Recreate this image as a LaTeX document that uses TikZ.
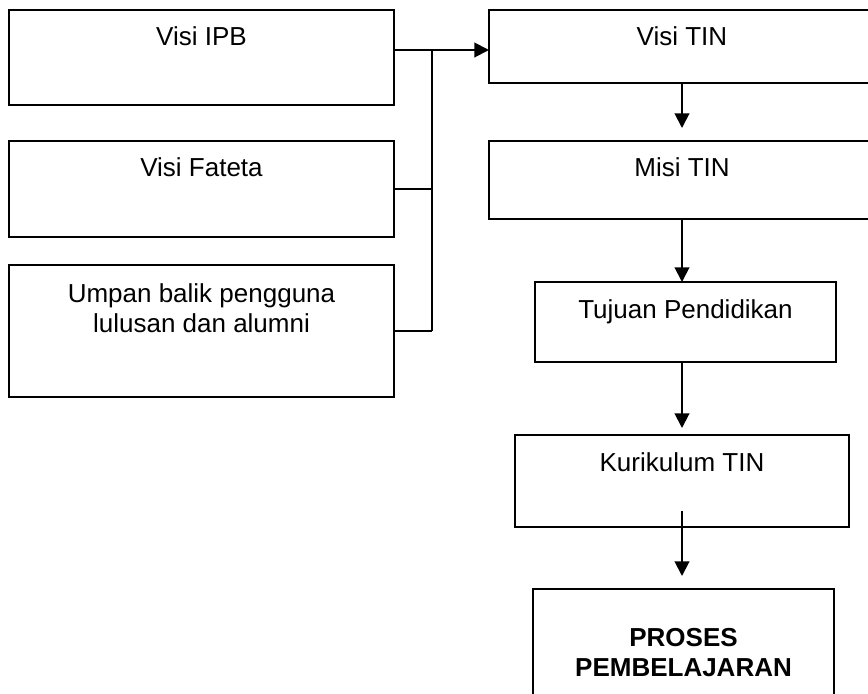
\documentclass[tikz,border=0pt]{standalone}
\usepackage{fontspec}
\setmainfont{Liberation Sans}
\usetikzlibrary{arrows.meta,positioning}
\tikzset{
	block/.style={
		rectangle,
		draw=black,
		line width=1.5pt,
		anchor=north west,
		inner sep=0pt,
		outer sep=0pt
	},
	boxtext/.style={
		inner sep=0pt,
		align=center,
		font=\fontsize{19.5}{22.5}\selectfont
	},
	arrow/.style={
		draw=black,
		line width=1.5pt,
		-{Triangle[width=11pt,length=11pt]}
	},
	link/.style={
		draw=black,
		line width=1.5pt
	},
}
\begin{document}
\begin{tikzpicture}[x=0.75pt,y=-0.75pt]
	\useasboundingbox (0,0) rectangle (868,693);
	% left column
	\node [block, minimum width=288.75pt, minimum height=71.25pt] (ipb) at (9,10) {};
	\node [boxtext, below=12.2pt of ipb.north] (ipbtext) {Visi IPB};
	\node [block, minimum width=288.75pt, minimum height=72pt] (fateta) at (9,141) {};
	\node [boxtext, below=12.2pt of fateta.north] (fatetatext) {Visi Fateta};
	\node [block, minimum width=288.75pt, minimum height=99pt] (umpan) at (9,265) {};
	\node [boxtext, below=13.7pt of umpan.north] (umpantext) {Umpan balik pengguna\\lulusan dan alumni};
	% right column
	\node [block, minimum width=289.5pt, minimum height=54.75pt] (vtin) at (489,10) {};
	\node [boxtext, below=12.2pt of vtin.north] (vtintext) {Visi TIN};
	\node [block, minimum width=289.5pt, minimum height=58.5pt] (mtin) at (489,141) {};
	\node [boxtext, below=12.2pt of mtin.north] (mtintext) {Misi TIN};
	\node [block, minimum width=225.75pt, minimum height=60pt] (tujuan) at (535,282) {};
	\node [boxtext, below=13pt of tujuan.north] (tujuantext) {Tujuan Pendidikan};
	\node [block, minimum width=250.5pt, minimum height=69pt] (kurikulum) at (515,435) {};
	\node [boxtext, below=13pt of kurikulum.north] (kurikulumtext) {Kurikulum TIN};
	\node [block, minimum width=225.75pt, minimum height=97.5pt] (proses) at (533,589) {};
	\node [boxtext, font=\fontsize{19.5}{22.5}\selectfont\bfseries, below=29.5pt of proses.north] (prosestext) {PROSES\\PEMBELAJARAN};
	% connectors
	\coordinate (join) at (432,50);
	\draw [link] (ipb.east |- join) -- (join);
	\draw [arrow] (join) -- (vtin.west |- join);
	\draw [link] (join) -- (join |- umpan.east);
	\draw [link] (fateta.east) -- (fateta.east -| join);
	\draw [link] (umpan.east) -- (umpan.east -| join);
	\draw [arrow] (vtin.south) -- ([yshift=9.75pt]vtin.south |- mtin.north);
	\draw [arrow] (mtin.south) -- (mtin.south |- tujuan.north);
	\draw [arrow] (mtin.south |- tujuan.south) -- ([yshift=5.25pt]mtin.south |- kurikulum.north);
	\draw [arrow] ([yshift=12pt]kurikulum.south) -- ([yshift=9.75pt]kurikulum.south |- proses.north);
\end{tikzpicture}
\end{document}
